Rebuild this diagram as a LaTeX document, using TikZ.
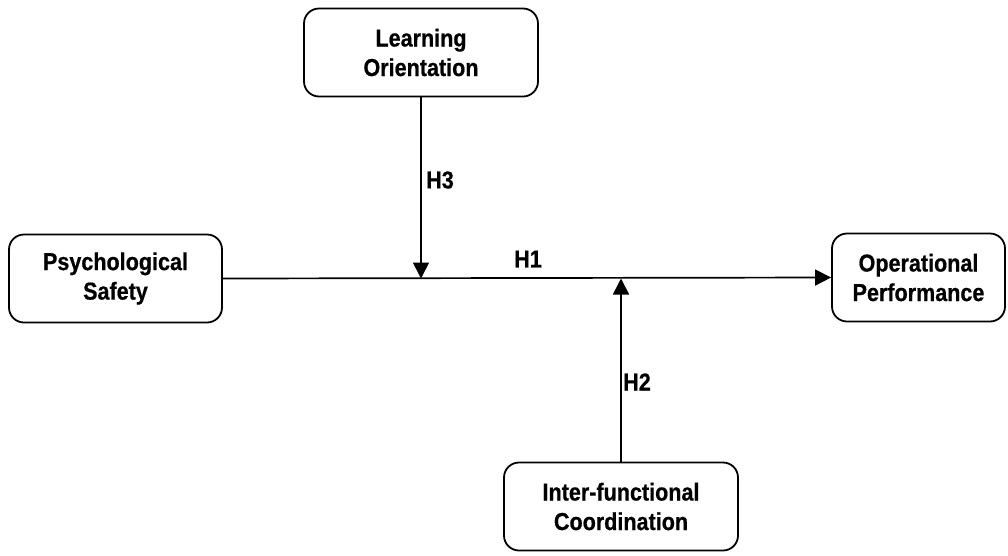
\documentclass[tikz,border=0pt]{standalone}
\usepackage{fontspec}
\usepackage{tikz}
\usetikzlibrary{arrows.meta, positioning}
\newfontfamily\lblfont[FakeStretch=0.88, FakeBold=0.6]{Liberation Sans}

\begin{document}
\begin{tikzpicture}[x=1pt, y=-1pt,
          vbx/.style={rectangle, rounded corners=15pt, draw=black, line width=1.8pt,
                      minimum height=88pt, align=center,
                      font=\lblfont\bfseries\fontsize{24.5}{29.5}\selectfont},
          hyp/.style={font=\lblfont\bfseries\fontsize{24.5}{29.5}\selectfont},
          arr/.style={-{Triangle[length=16pt, width=16pt]}, draw=black, line width=1.7pt}
        ]
        \useasboundingbox (0,0) rectangle (1008,555);

        % variables
        \node[vbx, minimum width=234pt] (lo) at (421, 52.5)  {Learning\\Orientation};
        \node[vbx, minimum width=213pt] (ps) at (115.5, 278.5) {Psychological\\Safety};
        \node[vbx, minimum width=173pt] (op) at (918.5, 277.5) {Operational\\Performance};
        \node[vbx, minimum width=234pt] (ic) at (621, 506.5) {Inter-functional\\Coordination};

        % points where the moderators meet the main path
        \coordinate (m3) at (lo.south |- ps.east);
        \coordinate (m2) at (ic.north |- ps.east);

        % H1: main effect
        \draw[arr] (ps.east) -- (op.west);
        % H3 and H2: moderators
        \draw[arr] (lo.south) -- (m3);
        \draw[arr] (ic.north) -- (m2);

        % hypothesis labels
        \node[hyp] (h1) at (528, 259) {H1};
        \node[hyp] (h3) at (440, 180) {H3};
        \node[hyp] (h2) at (637, 382) {H2};
      \end{tikzpicture}
\end{document}
